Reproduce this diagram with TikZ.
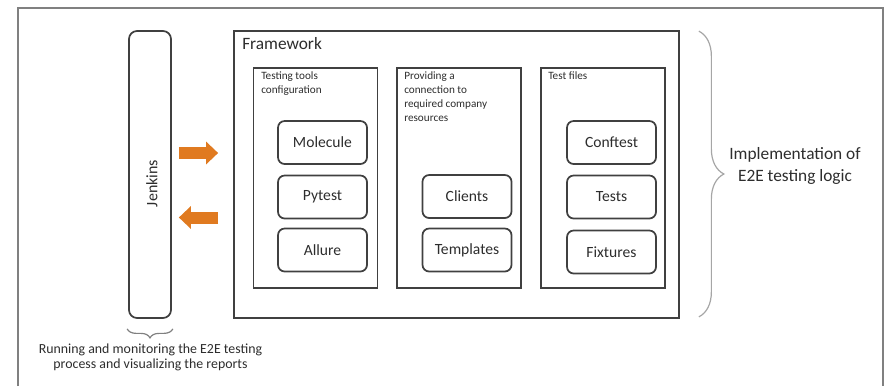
\documentclass[tikz,border=0pt]{standalone}
\usepackage{fontspec}
\setmainfont{Carlito}
\usepackage{tikz}
\usetikzlibrary{arrows.meta,positioning,calc,decorations.pathreplacing}
\definecolor{flowOrange}{RGB}{224,122,32}
\definecolor{lineGray}{RGB}{64,64,64}
\definecolor{textGray}{RGB}{45,45,45}

\begin{document}
\begin{tikzpicture}[
    x=0.75pt, y=-0.75pt,
    panel/.style={rectangle, draw=lineGray, line width=1.3pt, inner sep=0pt},
    section/.style={panel, minimum width=93pt, minimum height=165pt},
    item/.style={panel, rounded corners=5pt, minimum width=66.75pt, minimum height=32.25pt, font=\fontsize{11.7}{14}\selectfont, text=textGray},
    title/.style={anchor=north west, inner sep=0pt, align=left, font=\fontsize{8.4}{10.5}\selectfont, text=textGray},
    flow/.style={-{Triangle[length=9pt,width=16.5pt]}, line width=9pt, flowOrange},
    bracket/.style={decorate, decoration={brace, amplitude=#1}, line width=0.9pt},
    note/.style={align=center, inner sep=0pt, text=textGray}
]
\useasboundingbox (0,0) rectangle (888,386);

% Outer frame
\draw[gray, line width=0.8pt] (18,386) -- (18,8) -- (883,8) -- (883,386);

% Jenkins column
\node[panel, rounded corners=6pt, minimum width=31.5pt, minimum height=215.25pt] (jenkins) at (150,174.5) {};
\node[rotate=90, inner sep=0pt, text=textGray, font=\fontsize{12}{14}\selectfont] (jenkinsText) at (152,183.5) {Jenkins};

% Framework and its sections
\node[panel, minimum width=333.75pt, minimum height=215.25pt] (framework) at (456.5,174.5) {};
\node[anchor=west, inner sep=0pt, text=textGray, font=\fontsize{13}{16}\selectfont] (frameworkText) at (242,44) {Framework};

\node[section] (tools) at (315.5,178) {};
\node[section] (conn) at (459,178) {};
\node[section] (files) at (603,178) {};

\node[title] (toolsText) at (261,71) {Testing tools\\configuration};
\node[title] (connText) at (404,71) {Providing a\\connection to\\required company\\resources};
\node[title] (filesText) at (548,71) {Test files};

% Items
\node[item] (molecule) at (322.5,142.5) {Molecule};
\node[item] (pytest) at (322.5,197) {Pytest};
\node[item] (allure) at (322.5,250) {Allure};

\node[item] (clients) at (467,196.5) {Clients};
\node[item] (templates) at (467,250) {Templates};

\node[item] (conftest) at (611.5,142.5) {Conftest};
\node[item] (tests) at (611.5,197) {Tests};
\node[item] (fixtures) at (611.5,252) {Fixtures};

% Arrows between Jenkins and the framework
\draw[flow] ($(jenkins.east)+(7,-21.5)$) -- ($(framework.west)+(-15,-21.5)$);
\draw[flow] ($(framework.west)+(-15,43)$) -- ($(jenkins.east)+(7,43)$);

% Braces and notes
\draw[bracket=18.75pt, gray!70] ($(framework.north east)+(19,1)$) -- ($(framework.south east)+(19,-2)$);
\node[note, font=\fontsize{13}{16.5}\selectfont] (implText) at (795,166) {Implementation of\\E2E testing logic};

\draw[bracket=6.75pt, decoration={mirror}, gray] ($(jenkins.south west)+(-1,10)$) -- ($(jenkins.south east)+(1,10)$);
\node[note, font=\fontsize{10.4}{11.25}\selectfont] (runText) at (150.5,357) {Running and monitoring the E2E testing\\process and visualizing the reports};
\end{tikzpicture}
\end{document}
